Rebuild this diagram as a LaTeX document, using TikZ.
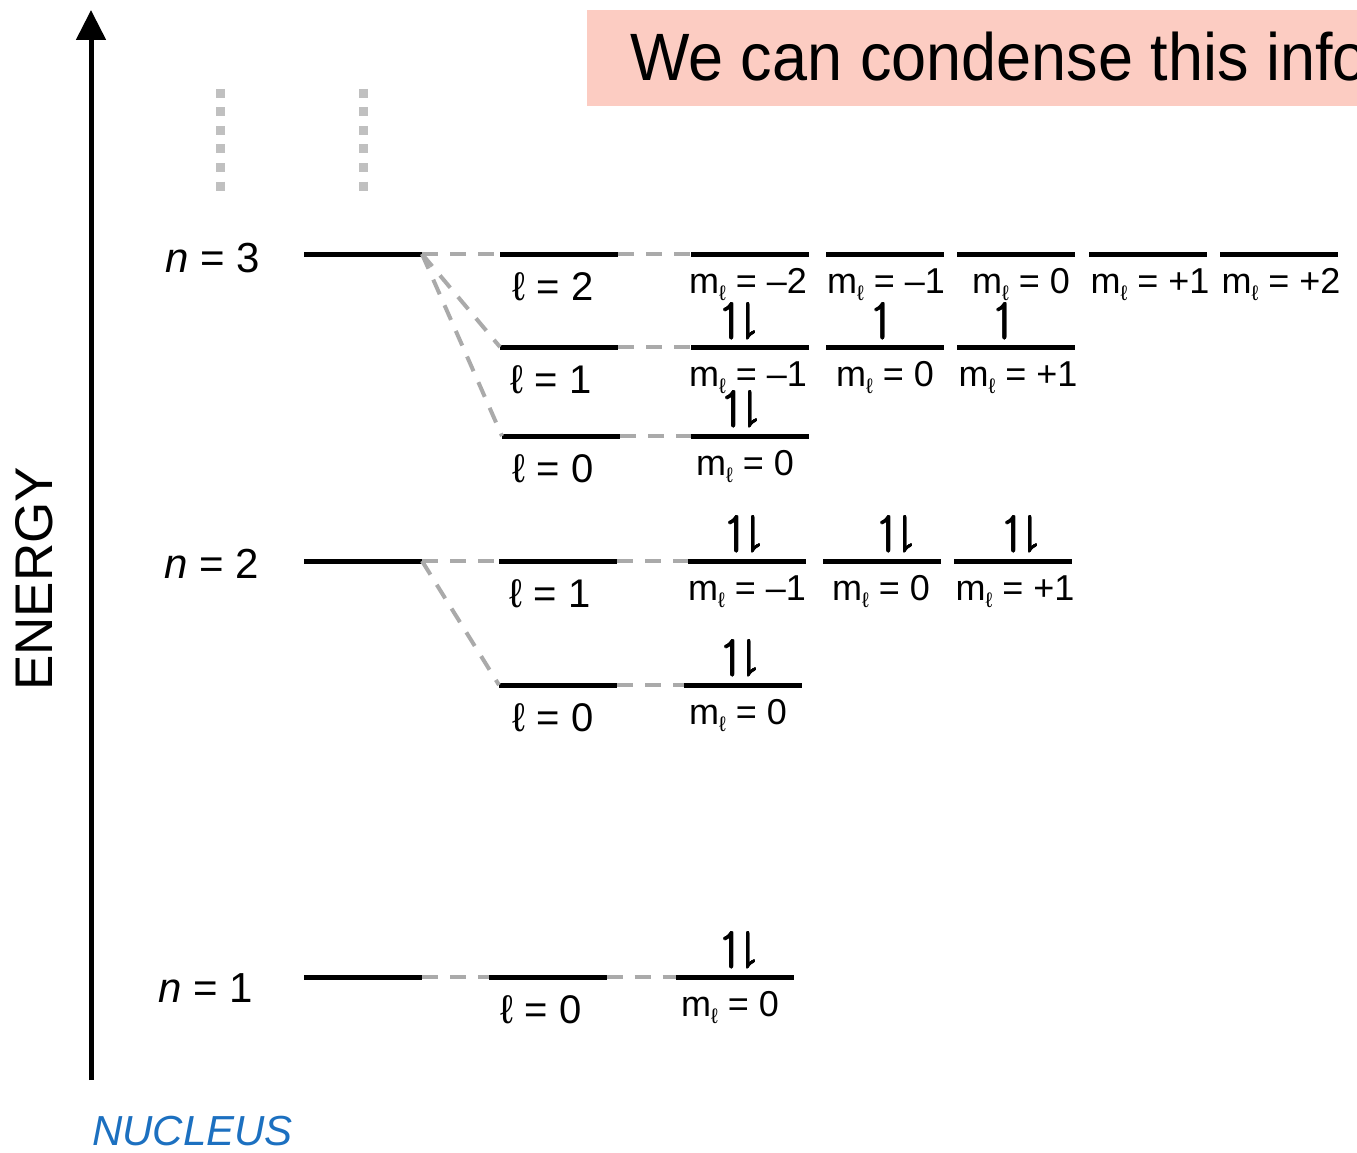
\documentclass[tikz,border=0pt]{standalone}
\usepackage{amssymb}
\usepackage{contour}
\usepackage{fontspec}
\setmainfont{Liberation Sans}
\newfontfamily\titlefont[FakeStretch=0.94]{Liberation Sans}
\usetikzlibrary{arrows.meta}
\contourlength{0.9pt}
\definecolor{dashgray}{RGB}{170,170,170}
\definecolor{dotgray}{RGB}{192,192,192}
\definecolor{titlepink}{RGB}{252,204,194}
\definecolor{nucblue}{RGB}{28,112,192}
\newcommand\mlsym{m\raisebox{-0.2em}{\fontsize{21}{21}\selectfont ℓ}}
\newcommand\spinpair{\contour{black}{$\upharpoonleft\downharpoonright$}}
\newcommand\spinone{\contour{black}{$\upharpoonleft$}}
\tikzset{
  lvl/.style={fill=black, minimum width=118pt, minimum height=5pt, inner sep=0pt, outer sep=0pt},
  conn/.style={draw=dashgray, line width=4pt, dash pattern=on 16pt off 12pt},
  nlab/.style={anchor=base, inner sep=0pt, font=\fontsize{42}{50}\selectfont},
  llab/.style={anchor=base, inner sep=0pt, font=\fontsize{40}{48}\selectfont},
  mlab/.style={anchor=base, inner sep=0pt, font=\fontsize{36}{42}\selectfont},
  spin/.style={anchor=south, inner sep=0pt, font=\fontsize{40}{42}\selectfont},
}
\begin{document}
\begin{tikzpicture}[x=1pt,y=-1pt]
\useasboundingbox (0,0) rectangle (1357,1153);
% title
\fill[titlepink] (587,10) rectangle (1357,106);
\begin{scope}
\clip (587,10) rectangle (1357,106);
\node[anchor=base west, inner sep=0pt, font=\titlefont\fontsize{67}{72}\selectfont] (title) at (630,81) {We can condense this info};
\end{scope}
% axis
\coordinate (axbot) at (91,1080);
\coordinate (axtop) at (91,10);
\draw[line width=5pt, -{Triangle[width=29pt,length=30pt]}] (axbot) -- (axtop);
\node[rotate=90, anchor=base, inner sep=0pt, font=\fontsize{53}{60}\selectfont] (energy) at (52,579) {ENERGY};
\node[anchor=base west, inner sep=0pt, text=nucblue, font=\fontsize{42}{50}\selectfont\itshape] (nucleus) at (92,1145) {NUCLEUS};
% dotted continuation
\draw[dotgray, line width=9pt, dash pattern=on 9pt off 9.5pt] (220,89) -- (220,191);
\draw[dotgray, line width=9pt, dash pattern=on 9pt off 9.5pt] (363,89) -- (363,191);
% levels
\node[lvl] (n3) at (363,254) {};
\node[lvl] (n2) at (363,561) {};
\node[lvl] (n1) at (363,977) {};
\node[lvl] (l32) at (559,254) {};
\node[lvl] (l31) at (559,347) {};
\node[lvl] (l30) at (561,436) {};
\node[lvl] (l21) at (558,561) {};
\node[lvl] (l20) at (558,685) {};
\node[lvl] (l10) at (547.5,977) {};
\node[lvl] (m32a) at (750,254) {};
\node[lvl] (m32b) at (885,254) {};
\node[lvl] (m32c) at (1016,254) {};
\node[lvl] (m32d) at (1148,254) {};
\node[lvl] (m32e) at (1279,254) {};
\node[lvl] (m31a) at (750,347) {};
\node[lvl] (m31b) at (885,347) {};
\node[lvl] (m31c) at (1016,347) {};
\node[lvl] (m30) at (750,436) {};
\node[lvl] (m21a) at (747,561) {};
\node[lvl] (m21b) at (882,561) {};
\node[lvl] (m21c) at (1013,561) {};
\node[lvl] (m20) at (742.5,685) {};
\node[lvl] (m10) at (735,977) {};
% connectors
\draw[conn] (n3.east) -- (l32.west);
\draw[conn] (n3.east) -- (l31.west);
\draw[conn] (n3.east) -- (l30.west);
\draw[conn] (l32.east) -- (m32a.west);
\draw[conn] (l31.east) -- (m31a.west);
\draw[conn] (l30.east) -- (m30.west);
\draw[conn] (n2.east) -- (l21.west);
\draw[conn] (n2.east) -- (l20.west);
\draw[conn] (l21.east) -- (m21a.west);
\draw[conn] (l20.east) -- (m20.west);
\draw[conn] (n1.east) -- (l10.west);
\draw[conn] (l10.east) -- (m10.west);
% n labels
\node[nlab] (tn3) at (213,272) {\textit{n} = 3};
\node[nlab] (tn2) at (212,578) {\textit{n} = 2};
\node[nlab] (tn1) at (206,1002) {\textit{n} = 1};
% l labels
\node[llab] (tl32) at (553,300) {ℓ = 2};
\node[llab] (tl31) at (551,393) {ℓ = 1};
\node[llab] (tl30) at (553,482) {ℓ = 0};
\node[llab] (tl21) at (550,607) {ℓ = 1};
\node[llab] (tl20) at (553,731) {ℓ = 0};
\node[llab] (tl10) at (541,1023) {ℓ = 0};
% m labels
\node[mlab] (tm32a) at (748,293) {\mlsym{} = –2};
\node[mlab] (tm32b) at (886,293) {\mlsym{} = –1};
\node[mlab] (tm32c) at (1021,293) {\mlsym{} = 0};
\node[mlab] (tm32d) at (1150,293) {\mlsym{} = +1};
\node[mlab] (tm32e) at (1281,293) {\mlsym{} = +2};
\node[mlab] (tm31a) at (748,386) {\mlsym{} = –1};
\node[mlab] (tm31b) at (885,386) {\mlsym{} = 0};
\node[mlab] (tm31c) at (1018,386) {\mlsym{} = +1};
\node[mlab] (tm30) at (745,475) {\mlsym{} = 0};
\node[mlab] (tm21a) at (747,600) {\mlsym{} = –1};
\node[mlab] (tm21b) at (881,600) {\mlsym{} = 0};
\node[mlab] (tm21c) at (1015,600) {\mlsym{} = +1};
\node[mlab] (tm20) at (738,724) {\mlsym{} = 0};
\node[mlab] (tm10) at (730,1016) {\mlsym{} = 0};
% electrons
\node[spin] (s31a) at (740,340) {\spinpair};
\node[spin] (s31b) at (883,340) {\spinone};
\node[spin] (s31c) at (1005,340) {\spinone};
\node[spin] (s30) at (742,428) {\spinpair};
\node[spin] (s21a) at (745,553) {\spinpair};
\node[spin] (s21b) at (897,553) {\spinpair};
\node[spin] (s21c) at (1022,553) {\spinpair};
\node[spin] (s20) at (741,677) {\spinpair};
\node[spin] (s10) at (740,969) {\spinpair};
\end{tikzpicture}
\end{document}
